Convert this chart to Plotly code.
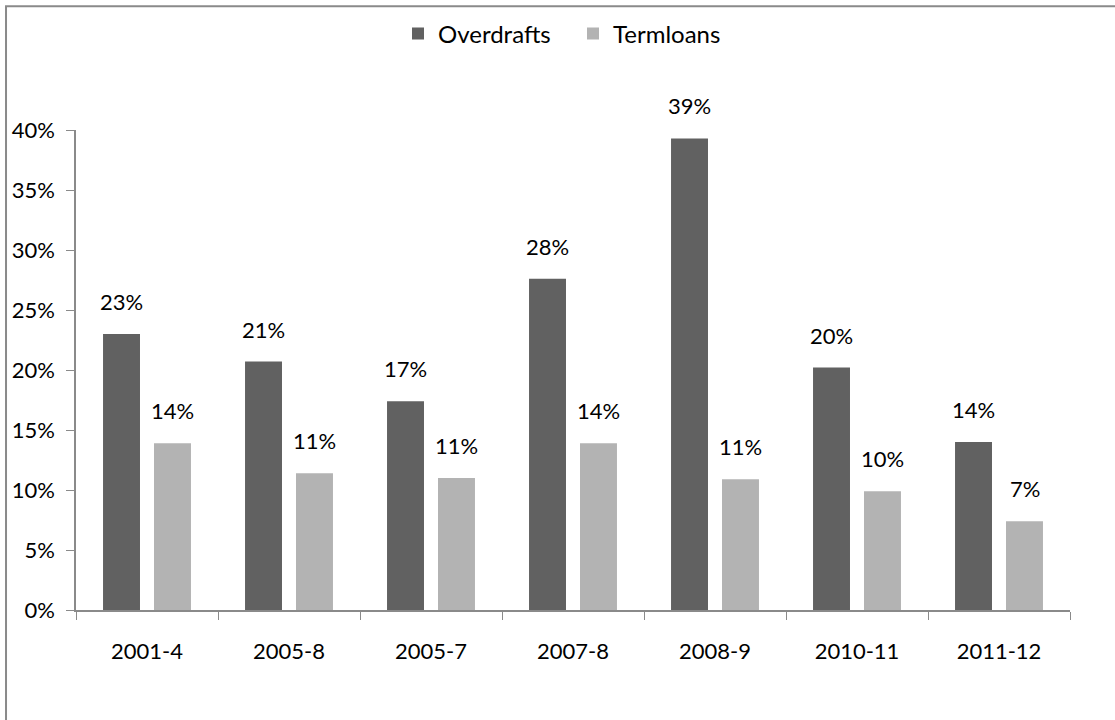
import plotly.graph_objects as go

categories = ["2001-4", "2005-8", "2005-7", "2007-8", "2008-9", "2010-11", "2011-12"]
overdrafts = [23.0, 20.7, 17.4, 27.6, 39.3, 20.2, 14.0]
termloans = [13.9, 11.4, 11.0, 13.9, 10.9, 9.9, 7.4]
y_ticks = [0, 5, 10, 15, 20, 25, 30, 35, 40]

FONT = "Lato"
DARK = "#616161"
LIGHT = "#b3b3b3"
AXIS = "#8a8a8a"

fig = go.Figure()
fig.add_trace(go.Bar(name="Overdrafts", x=categories, y=overdrafts, marker_color=DARK,
                     marker_line_width=0, hoverinfo="skip"))
fig.add_trace(go.Bar(name="Termloans", x=categories, y=termloans, marker_color=LIGHT,
                     marker_line_width=0, hoverinfo="skip"))

annotations = []
for series, shift in ((overdrafts, -25.5), (termloans, 25.5)):
    for c, v in zip(categories, series):
        annotations.append(dict(x=c, y=v, text=f"{round(v):d}%", showarrow=False,
                                xshift=shift, yshift=17, yanchor="bottom",
                                font=dict(family=FONT, size=22, color="#000")))

fig.update_layout(
    width=1115, height=720,
    margin=dict(l=76, r=45, t=130, b=110),
    paper_bgcolor="white", plot_bgcolor="white",
    barmode="group", bargap=0.282, bargroupgap=0.275,
    font=dict(family=FONT, size=22, color="#000"),
    showlegend=True,
    legend=dict(orientation="h", x=0.5, xanchor="center", y=1.2, yanchor="middle",
                font=dict(family=FONT, size=24, color="#000"), itemwidth=30,
                entrywidth=130),
    annotations=annotations,
    shapes=[dict(type="rect", xref="paper", yref="paper",
                 x0=-0.0704, y0=1.258, x1=1.3, y1=-0.5,
                 line=dict(color=AXIS, width=2), layer="below")],
)
fig.update_xaxes(type="category", showline=True, linecolor=AXIS, linewidth=1.5,
                 ticks="outside", tickson="boundaries", ticklen=8, tickcolor=AXIS,
                 showgrid=False, ticklabelstandoff=21, tickfont=dict(family=FONT, size=22))
fig.update_yaxes(range=[0, 40], tickvals=y_ticks, ticktext=[f"{t}%" for t in y_ticks],
                 showline=True, linecolor=AXIS, linewidth=1.5, ticks="outside",
                 ticklen=8, tickcolor=AXIS, showgrid=False, zeroline=False,
                 ticklabelstandoff=7, tickfont=dict(family=FONT, size=22))

fig.write_html("out.html", config={"displayModeBar": False},
               post_script="document.body.style.margin='0';")
